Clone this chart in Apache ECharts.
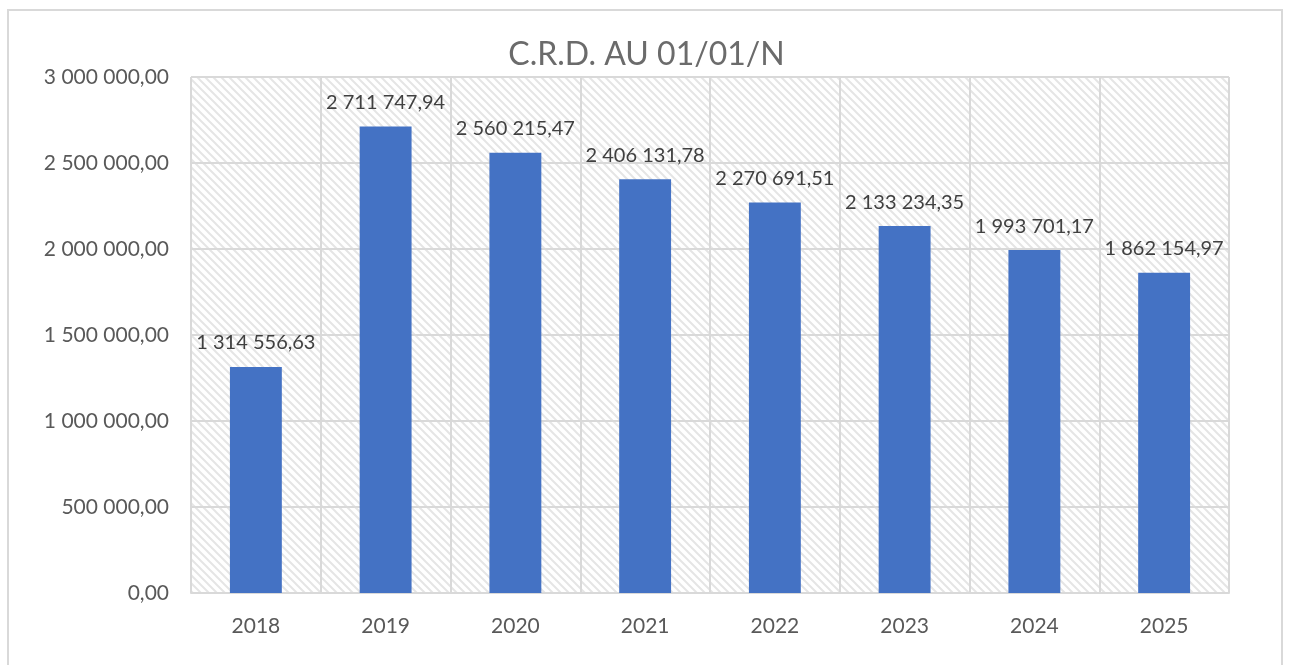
<!DOCTYPE html>
<html>
<head>
<meta charset="utf-8">
<script src="https://cdn.jsdelivr.net/npm/echarts@6/dist/echarts.min.js"></script>
<style>
  html, body { margin: 0; padding: 0; background: #fff; }
  #frame { position: absolute; left: 7px; top: 9px; width: 1276px; height: 670px; border: 2px solid #d9d9d9; box-sizing: border-box; }
  #chart { position: absolute; left: 0; top: 0; width: 1293px; height: 665px; }
</style>
</head>
<body>
<div id="frame"></div>
<div id="chart"></div>
<script>
// données
const years = ['2018', '2019', '2020', '2021', '2022', '2023', '2024', '2025'];
const crd = [1314556.63, 2711747.94, 2560215.47, 2406131.78, 2270691.51, 2133234.35, 1993701.17, 1862154.97];
const chartTitle = 'C.R.D. AU 01/01/N';

function fmt(v) {
    let parts = v.toFixed(2).split('.');
    let ent = parts[0].replace(/\B(?=(\d{3})+(?!\d))/g, ' ');
    return ent + ',' + parts[1];
}

// motif hachuré du fond
function hatch() {
    let c = document.createElement('canvas');
    c.width = 8; c.height = 8;
    let ctx = c.getContext('2d');
    ctx.fillStyle = '#ffffff';
    ctx.fillRect(0, 0, 8, 8);
    ctx.strokeStyle = '#e5e5e5';
    ctx.lineWidth = 2;
    ctx.beginPath();
    ctx.moveTo(-2, -2); ctx.lineTo(10, 10);
    ctx.moveTo(-2, 6); ctx.lineTo(2, 10);
    ctx.moveTo(6, -2); ctx.lineTo(10, 2);
    ctx.stroke();
    return c;
}

let myChart = echarts.init(document.getElementById('chart'));
myChart.setOption({
    animation: false,
    textStyle: { fontFamily: 'Lato, "Open Sans", sans-serif' },
    title: {
        text: chartTitle,
        left: 'center',
        top: 34,
        textStyle: { fontSize: 32, fontWeight: 'normal', color: '#6b6b6b' }
    },
    grid: {
        left: 191, right: 64, top: 77, bottom: 72,
        show: true,
        backgroundColor: { image: hatch(), repeat: 'repeat' },
        borderWidth: 0
    },
    xAxis: {
        type: 'category',
        data: years,
        axisLine: { lineStyle: { color: '#d9d9d9', width: 2 } },
        axisTick: { show: false },
        splitLine: { show: true, lineStyle: { color: '#d9d9d9', width: 2 } },
        axisLabel: { fontSize: 21, color: '#595959', margin: 23 }
    },
    yAxis: {
        type: 'value',
        min: 0, max: 3000000, interval: 500000,
        axisLine: { show: false },
        axisTick: { show: false },
        splitLine: { lineStyle: { color: '#d9d9d9', width: 2 } },
        axisLabel: { fontSize: 21, color: '#595959', margin: 22, formatter: v => fmt(v) }
    },
    series: [{
        type: 'bar',
        data: crd,
        barWidth: '40%',
        itemStyle: { color: '#4472c4' },
        label: {
            show: true,
            position: 'top',
            distance: 14,
            fontSize: 20,
            color: '#404040',
            formatter: p => fmt(p.value)
        }
    }]
});
</script>
</body>
</html>
